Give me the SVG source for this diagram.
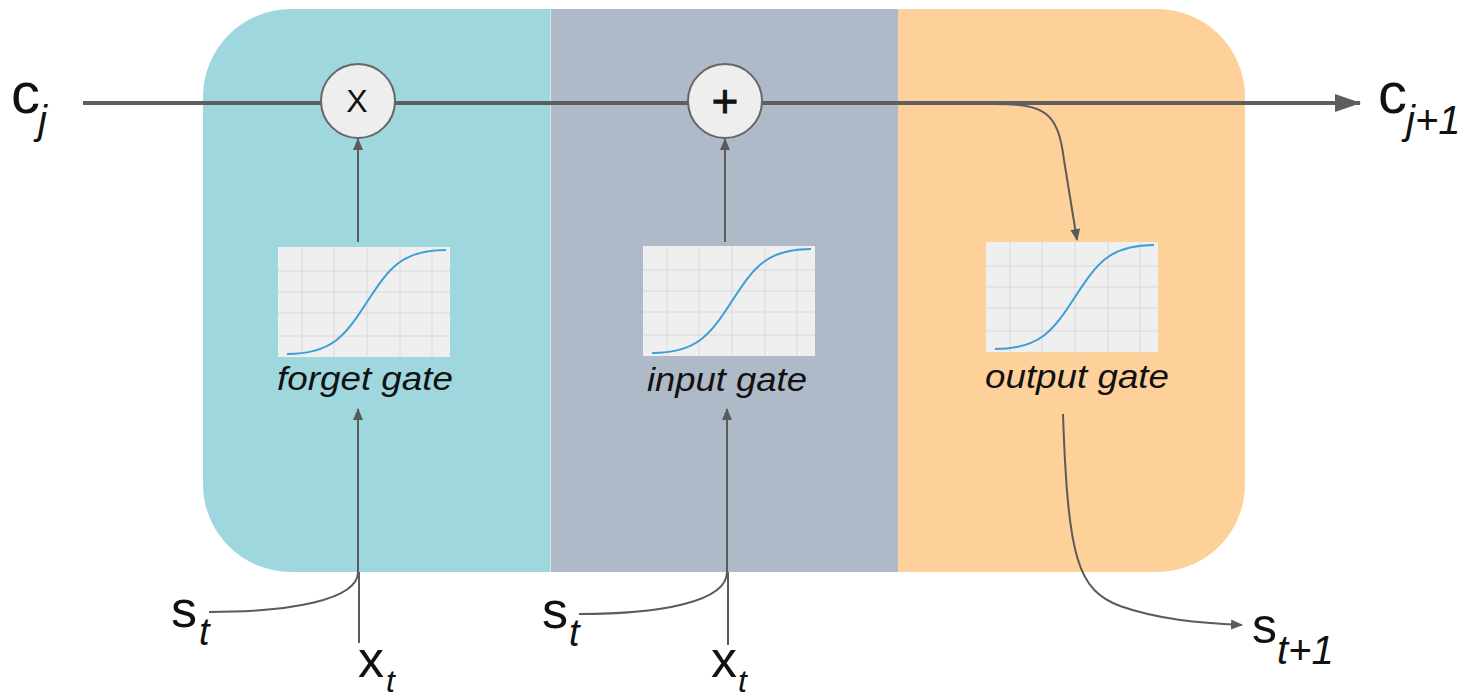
<svg xmlns="http://www.w3.org/2000/svg" xmlns:xlink="http://www.w3.org/1999/xlink" width="1469" height="697" viewBox="0 0 1469 697">
<style>
.lbl{font-family:"Liberation Sans",Arial,sans-serif;font-style:italic;fill:#111;}
.sym{font-family:"Liberation Sans",Arial,sans-serif;fill:#111;}
.sub{font-family:"Liberation Sans",Arial,sans-serif;font-style:italic;fill:#111;}
.conn{fill:none;stroke:#5b5b5b;stroke-width:2;}
.main{fill:none;stroke:#5e5e5e;stroke-width:4;}
.op{fill:#eeeeee;stroke:#666;stroke-width:2;}
.grid{stroke:#d9d9d9;stroke-width:1;}
</style>
<defs>
<clipPath id="cellclip"><rect x="203" y="9" width="1042" height="563" rx="88" ry="88"/></clipPath>
<marker id="ah" viewBox="0 0 12 10" refX="11" refY="5" markerWidth="12" markerHeight="10" markerUnits="userSpaceOnUse" orient="auto"><path d="M0,0 L12,5 L0,10 Z" fill="#5b5b5b"/></marker>
<marker id="ahbig" viewBox="0 0 26 18" refX="25" refY="9" markerWidth="26" markerHeight="18" markerUnits="userSpaceOnUse" orient="auto"><path d="M0,0 L26,9 L0,18 Z" fill="#5e5e5e"/></marker>
<g id="sig">
<rect x="0" y="0" width="172" height="110" fill="#efefef"/>
<path class="grid" d="M24,0V110M56,0V110M89,0V110M122,0V110M154,0V110M0,24H172M0,45H172M0,66H172M0,89H172"/>
<path d="M9,107 C54,107 67,89 89,55 C111,21 124,3 168,3" fill="none" stroke="#3b9fd6" stroke-width="2"/>
</g>
</defs>

<g id="cell" clip-path="url(#cellclip)">
<rect x="203" y="9" width="347" height="563" fill="#9fd7df"/>
<rect x="550" y="9" width="348" height="563" fill="#afbac8"/>
<rect x="898" y="9" width="347" height="563" fill="#fed09a"/>
<line x1="550.5" y1="9" x2="550.5" y2="572" stroke="#d6e8ec" stroke-width="1"/>
</g>

<g id="connectors">
<line class="main" x1="83" y1="103" x2="1360" y2="103" marker-end="url(#ahbig)"/>
<path class="conn" d="M995,104 C1045,104 1058,112 1064,160 L1077,240" marker-end="url(#ah)"/>
<line class="conn" x1="358" y1="242" x2="358" y2="139" marker-end="url(#ah)"/>
<line class="conn" x1="725" y1="242" x2="725" y2="139" marker-end="url(#ah)"/>
<path class="conn" d="M209,612 C290,612 358,600 358,572 L358,409" marker-end="url(#ah)"/>
<line class="conn" x1="359" y1="643" x2="359" y2="572"/>
<path class="conn" d="M579,614 C660,614 727,602 727,572 L727,409" marker-end="url(#ah)"/>
<line class="conn" x1="728" y1="645" x2="728" y2="572"/>
<path class="conn" d="M1063,414 C1068,560 1078,590 1120,606 C1160,620 1200,623 1242,625" marker-end="url(#ah)"/>
</g>

<g id="multiply">
<circle class="op" cx="358" cy="101" r="37"/>
<text class="sym" x="357" y="112" font-size="32" text-anchor="middle">X</text>
</g>
<g id="add">
<circle class="op" cx="725" cy="101" r="37"/>
<text class="sym" x="725" y="117" font-size="46" text-anchor="middle" stroke="#111" stroke-width="0.8">+</text>
</g>

<g id="forget-gate">
<use xlink:href="#sig" x="278" y="247"/>
<text class="lbl" x="277" y="390" font-size="34" textLength="176" lengthAdjust="spacingAndGlyphs">forget gate</text>
</g>
<g id="input-gate">
<use xlink:href="#sig" x="643" y="246"/>
<text class="lbl" x="647" y="391" font-size="34" textLength="160" lengthAdjust="spacingAndGlyphs">input gate</text>
</g>
<g id="output-gate">
<use xlink:href="#sig" x="986" y="242"/>
<text class="lbl" x="985" y="388" font-size="34" textLength="184" lengthAdjust="spacingAndGlyphs">output gate</text>
</g>

<g id="c-in">
<text class="sym" x="11" y="113" font-size="58">c</text>
<text class="sub" x="38" y="134" font-size="40">j</text>
</g>
<g id="c-out">
<text class="sym" x="1378" y="113" font-size="58">c</text>
<text class="sub" x="1406" y="134" font-size="40">j+1</text>
</g>
<g id="s-in-1">
<text class="sym" x="171" y="627" font-size="52">s</text>
<text class="sub" x="199" y="645" font-size="38">t</text>
</g>
<g id="x-in-1">
<text class="sym" x="358" y="677" font-size="52">x</text>
<text class="sub" x="386" y="692" font-size="32">t</text>
</g>
<g id="s-in-2">
<text class="sym" x="542" y="628" font-size="52">s</text>
<text class="sub" x="569" y="646" font-size="38">t</text>
</g>
<g id="x-in-2">
<text class="sym" x="711" y="677" font-size="52">x</text>
<text class="sub" x="738" y="692" font-size="32">t</text>
</g>
<g id="s-out">
<text class="sym" x="1252" y="643" font-size="50">s</text>
<text class="sub" x="1277" y="664" font-size="40">t+1</text>
</g>
</svg>
